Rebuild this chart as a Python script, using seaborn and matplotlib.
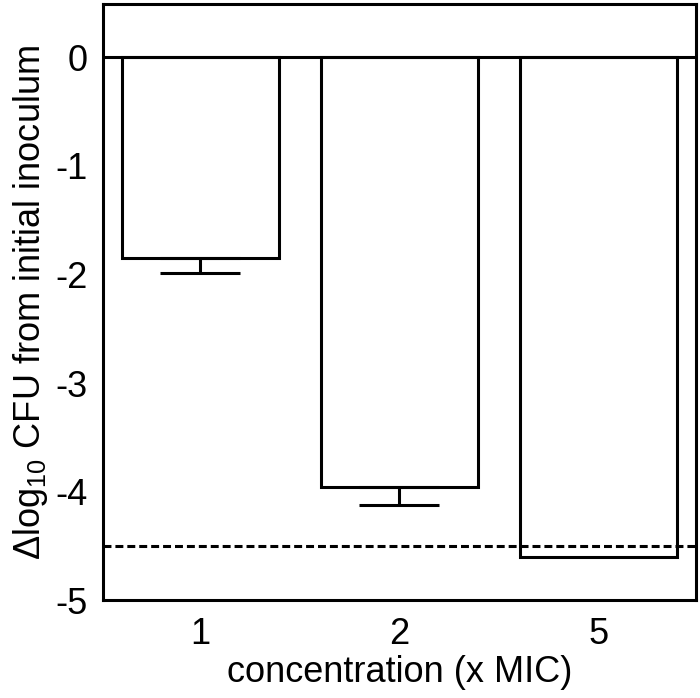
import matplotlib
matplotlib.use("Agg")
import matplotlib.pyplot as plt
import seaborn as sns
import numpy as np
import pandas as pd

# Dados
concentracoes = ["1", "2", "5"]
delta_log = [-1.85, -3.96, -4.60]
erro_inferior = [0.14, 0.16, 0.0]
limite_deteccao = -4.5

df = pd.DataFrame({"conc": concentracoes, "delta": delta_log})

sns.set_theme(style="white")
plt.rcParams["font.family"] = ["Liberation Sans", "DejaVu Sans"]
plt.rcParams["mathtext.fontset"] = "custom"
plt.rcParams["mathtext.rm"] = "Liberation Sans"

lw = 2.2
fs = 26
fig = plt.figure(figsize=(7, 6.98), dpi=100)
ax = fig.add_axes([0.147, 0.140, 0.847, 0.854])

sns.barplot(data=df, x="conc", y="delta", color="white", edgecolor="black",
            linewidth=lw, width=0.79, saturation=1, errorbar=None, ax=ax)

# Barras de erro (somente para baixo)
xs = np.arange(len(concentracoes))
mask = np.array(erro_inferior) > 0
ax.errorbar(xs[mask], np.array(delta_log)[mask],
            yerr=[np.array(erro_inferior)[mask], np.zeros(mask.sum())],
            fmt="none", ecolor="black", elinewidth=lw, capsize=29, capthick=lw)

ax.axhline(0, color="black", lw=lw, zorder=3)
ax.axhline(limite_deteccao, color="black", lw=lw, ls=(0, (2.6, 1.3)), zorder=1)

ax.set_xlim(-0.49, 2.49)
ax.set_ylim(-5, 0.49)
ax.set_yticks([0, -1, -2, -3, -4, -5])
ax.set_yticklabels(["0", "-1", "-2", "-3", "-4", "-5"])

for s in ax.spines.values():
    s.set_color("black")
    s.set_linewidth(lw)

ax.tick_params(axis="both", direction="out", length=9, width=lw, colors="black",
               labelsize=fs, pad=2)
ax.tick_params(axis="x", pad=3)
ax.set_xlabel("concentration (x MIC)", fontsize=fs, color="black", labelpad=2)
ax.set_ylabel("Δlog$_{\\mathregular{10}}$ CFU from initial inoculum", fontsize=fs,
              color="black", labelpad=4)

plt.savefig("out.png", dpi=100)
plt.close()
